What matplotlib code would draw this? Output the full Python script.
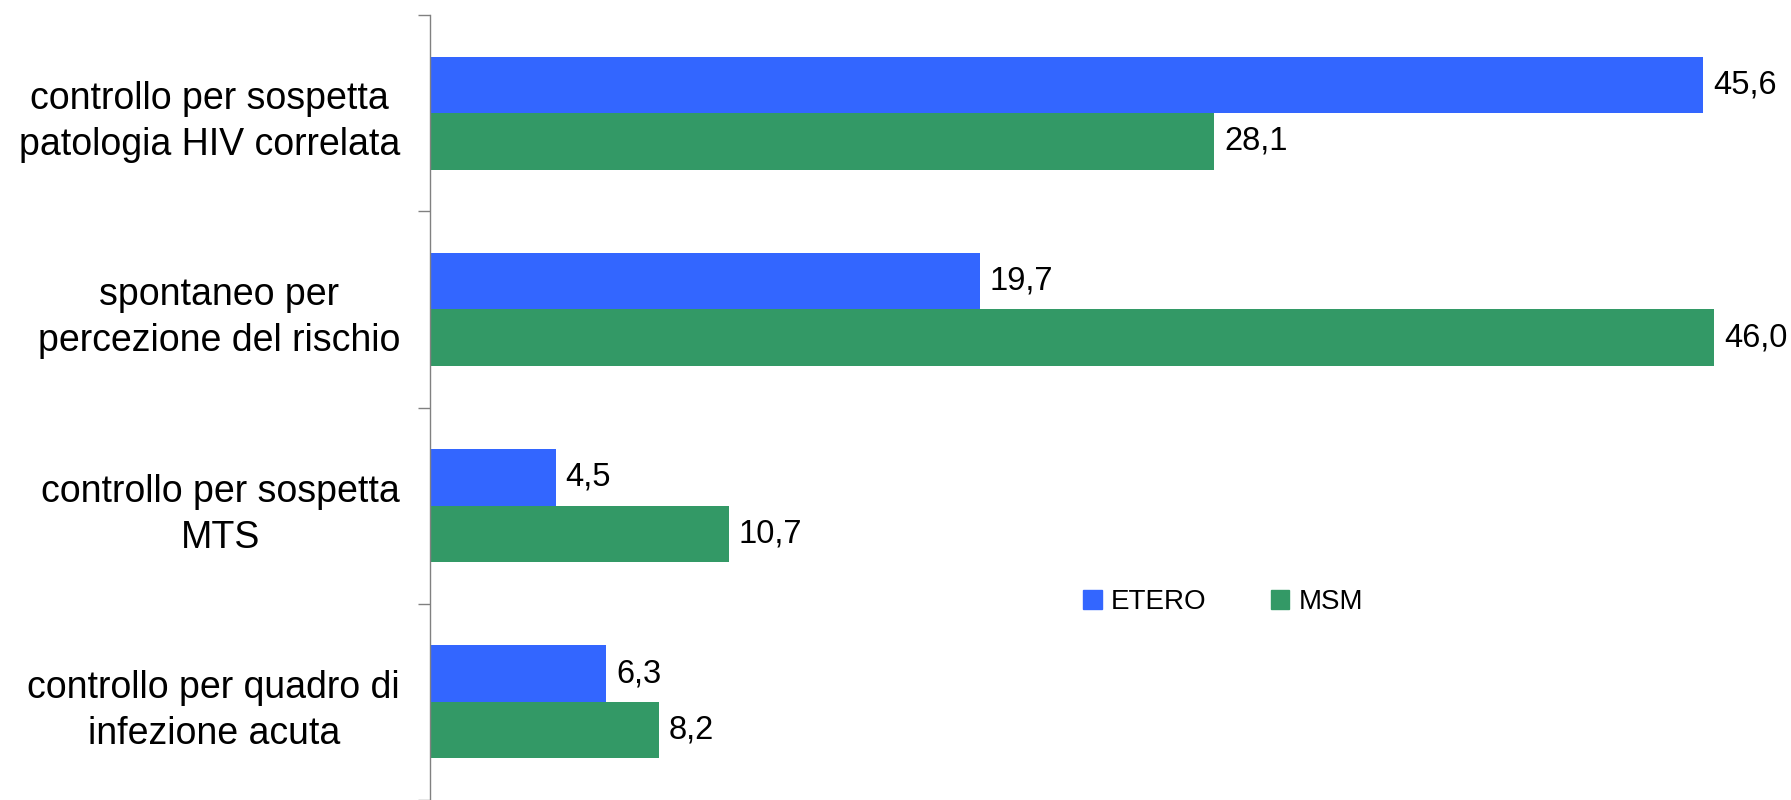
import numpy as np
import matplotlib.pyplot as plt
from matplotlib.patches import Patch

plt.rcParams['font.family'] = ['Liberation Sans', 'DejaVu Sans']

categories = ["controllo per sospetta\npatologia HIV correlata",
              "spontaneo per\npercezione del rischio",
              "controllo per sospetta\nMTS",
              "controllo per quadro di\ninfezione acuta"]
etero = [45.6, 19.7, 4.5, 6.3]
msm = [28.1, 46.0, 10.7, 8.2]

c_etero = "#3366FF"
c_msm = "#339966"

fig = plt.figure(figsize=(17.91, 8), dpi=100)
ax = fig.add_axes([430/1791, 0, 1 - 430/1791, 1 - 15/800])

y = np.arange(len(categories))
h = 0.2875
b1 = ax.barh(y - h/2, etero, height=h, color=c_etero)
b2 = ax.barh(y + h/2, msm, height=h, color=c_msm)

for bars, vals in ((b1, etero), (b2, msm)):
    for bar, v in zip(bars, vals):
        ax.annotate(f"{v:.1f}".replace(".", ","),
                    (bar.get_width(), bar.get_y() + bar.get_height()/2),
                    xytext=(10, 0), textcoords="offset pixels",
                    ha="left", va="center", fontsize=23.5)

ax.set_xlim(0, 48.75)
ax.set_ylim(3.5, -0.5)

ax.set_yticks(y)
ax.set_yticklabels(categories, fontsize=27, multialignment="center", linespacing=1.36)
ax.set_yticks(np.arange(-0.5, 4, 1), minor=True)
ax.tick_params(axis="y", which="major", length=0, pad=21.6)
ax.tick_params(axis="y", which="minor", length=8.6, color="#808080", width=1)
ax.set_xticks([])

for s in ("top", "right", "bottom"):
    ax.spines[s].set_visible(False)
ax.spines["left"].set_color("#808080")
ax.spines["left"].set_linewidth(1)

handles = [Patch(color=c_etero, label="ETERO"), Patch(color=c_msm, label="MSM")]
fig.legend(handles=handles, loc="center", bbox_to_anchor=(0.683, 0.2475),
           ncol=2, frameon=False, fontsize=20, handlelength=0.65, handleheight=0.65,
           handletextpad=0.35, columnspacing=2.3)

fig.savefig("out.png", dpi=100)
